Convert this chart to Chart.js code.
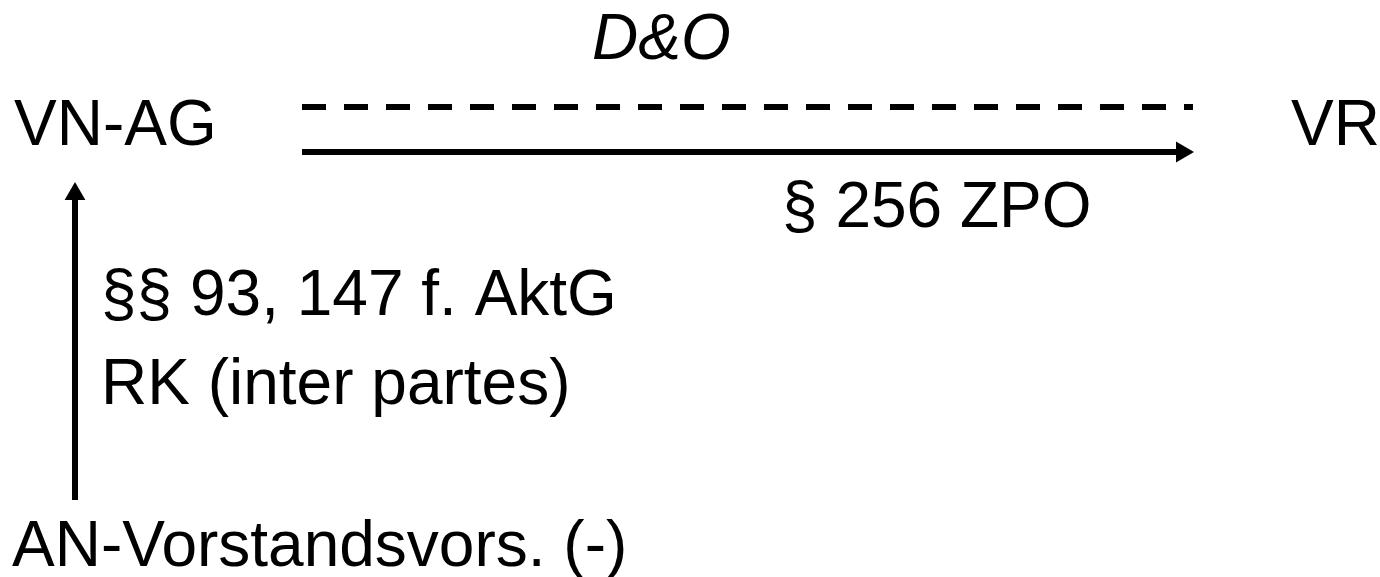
<!DOCTYPE html>
<html>
<head>
<meta charset="utf-8">
<title>D&amp;O Diagramm</title>
<script src="https://cdn.jsdelivr.net/npm/chart.js@4.4.0/dist/chart.umd.min.js"></script>
<style>
    html, body { margin: 0; padding: 0; background: #ffffff; }
    #diagram { display: block; }
</style>
</head>
<body>
<canvas id="diagram" width="1380" height="577"></canvas>
<script>
// Beschriftungen und ihre Lage im Diagramm (x links, y Grundlinie)
const labels = ['D&O', 'VN-AG', 'VR', '§ 256 ZPO', '§§ 93, 147 f. AktG', 'RK (inter partes)', 'AN-Vorstandsvors. (-)'];
const labelX = [592, 14, 1291, 782, 101, 101, 12];
const labelY = [59, 145, 145, 227, 315, 404, 566];

// Verbindungen: gestrichelt (D&O), Pfeil VN-AG -> VR, Pfeil AN -> VN-AG
const dashedX = [302, 1193];
const dashedY = [107, 107];
const claimX = [302, 1182];
const claimY = [152, 152];
const upX = [75, 75];
const upY = [500, 194];

// Pfeilspitzen (Schwerpunkt) und Richtung in Grad
const headX = [1182, 75];
const headY = [152, 194];
const headAngle = [90, 0];

const toPoints = (xs, ys) => xs.map((x, i) => ({ x: x, y: ys[i] }));

// Text direkt auf die Leinwand schreiben
const textPlugin = {
    id: 'diagramText',
    afterDatasetsDraw(chart) {
        const ctx = chart.ctx;
        const sx = chart.scales.x;
        const sy = chart.scales.y;
        ctx.save();
        ctx.fillStyle = '#000000';
        ctx.textBaseline = 'alphabetic';
        ctx.textAlign = 'left';
        labels.forEach((text, i) => {
            const italic = text === 'D&O' ? 'italic ' : '';
            ctx.font = italic + '64px "Liberation Sans", Arial, sans-serif';
            ctx.fillText(text, sx.getPixelForValue(labelX[i]), sy.getPixelForValue(labelY[i]));
        });
        ctx.restore();
    }
};

const ctx = document.getElementById('diagram').getContext('2d');

new Chart(ctx, {
    type: 'scatter',
    data: {
        datasets: [
            {
                label: 'D&O',
                data: toPoints(dashedX, dashedY),
                showLine: true,
                borderColor: '#000000',
                borderWidth: 6,
                borderDash: [24, 18],
                borderCapStyle: 'butt',
                pointRadius: 0
            },
            {
                label: '§ 256 ZPO',
                data: toPoints(claimX, claimY),
                showLine: true,
                borderColor: '#000000',
                borderWidth: 6,
                borderCapStyle: 'butt',
                pointRadius: 0
            },
            {
                label: '§§ 93, 147 f. AktG',
                data: toPoints(upX, upY),
                showLine: true,
                borderColor: '#000000',
                borderWidth: 6,
                borderCapStyle: 'butt',
                pointRadius: 0
            },
            {
                label: 'Pfeilspitzen',
                data: toPoints(headX, headY),
                showLine: false,
                pointStyle: 'triangle',
                pointRadius: 12,
                pointRotation: headAngle,
                pointBackgroundColor: '#000000',
                pointBorderColor: '#000000',
                pointBorderWidth: 0
            }
        ]
    },
    options: {
        responsive: false,
        animation: false,
        layout: { padding: 0, autoPadding: false },
        plugins: {
            legend: { display: false },
            tooltip: { enabled: false }
        },
        scales: {
            x: { type: 'linear', min: 0, max: 1380, display: false },
            y: { type: 'linear', min: 0, max: 577, reverse: true, display: false }
        }
    },
    plugins: [textPlugin]
});
</script>
</body>
</html>
